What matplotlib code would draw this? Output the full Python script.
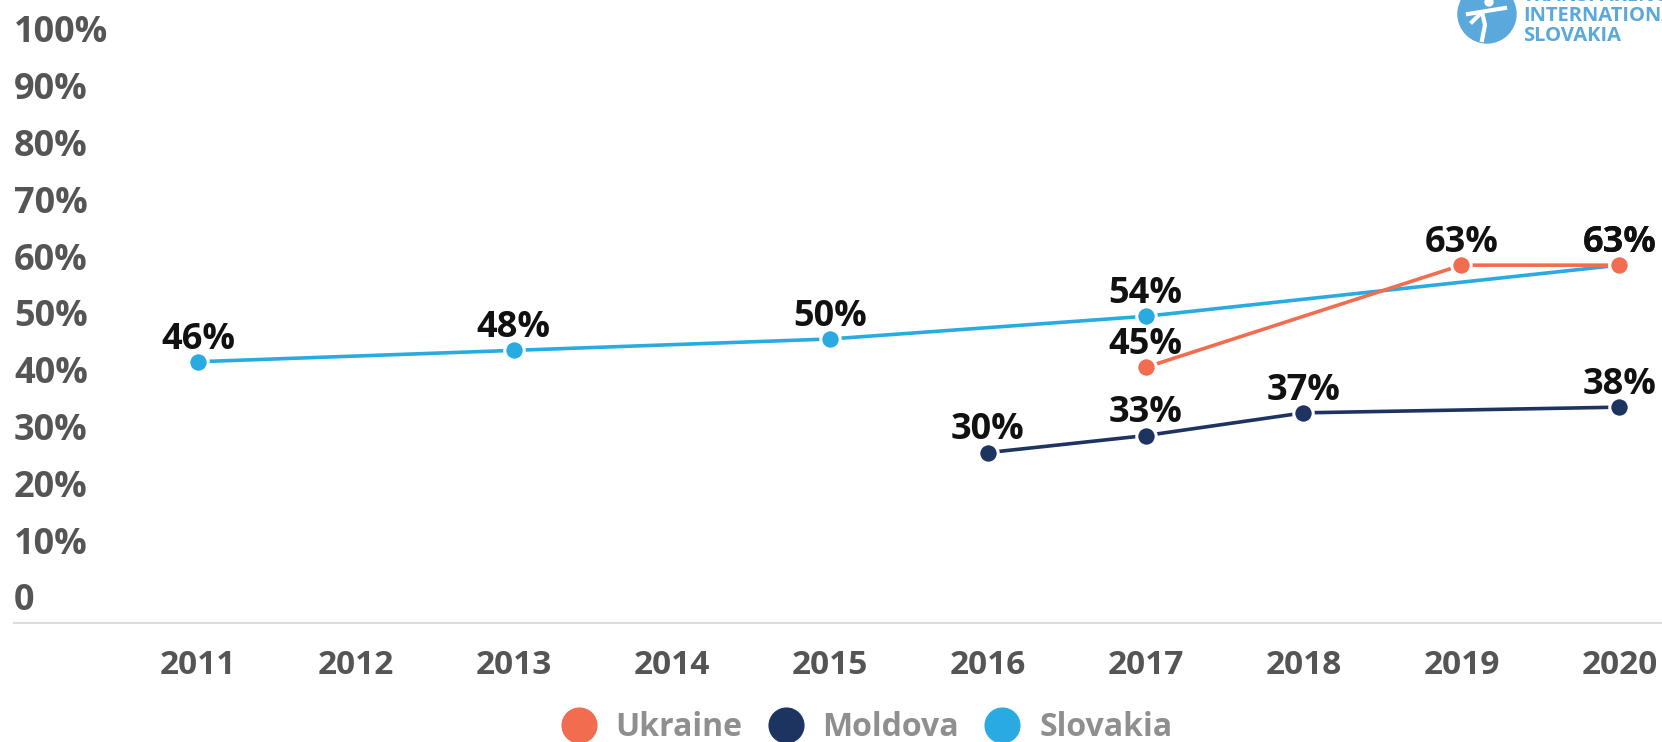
import matplotlib
matplotlib.use("Agg")
import matplotlib.pyplot as plt
import matplotlib.transforms as mtransforms
from matplotlib.lines import Line2D
from matplotlib.patches import Circle
import numpy as np

plt.rcParams['font.family'] = ['Open Sans', 'DejaVu Sans']

years = ["2011", "2012", "2013", "2014", "2015", "2016", "2017", "2018", "2019", "2020"]
ukraine_years = ["2017", "2019", "2020"]
ukraine_vals = [45, 63, 63]
moldova_years = ["2016", "2017", "2018", "2020"]
moldova_vals = [30, 33, 37, 38]
slovakia_years = ["2011", "2013", "2015", "2017", "2020"]
slovakia_vals = [46, 48, 50, 54, 63]
y_ticks = [0, 10, 20, 30, 40, 50, 60, 70, 80, 90, 100]
y_labels = ["0", "10%", "20%", "30%", "40%", "50%", "60%", "70%", "80%", "90%", "100%"]

series = [
    ("Ukraine", ukraine_years, ukraine_vals, "#F26D50"),
    ("Moldova", moldova_years, moldova_vals, "#1D3461"),
    ("Slovakia", slovakia_years, slovakia_vals, "#29ABE2"),
]

W, H = 1662, 742
fig = plt.figure(figsize=(W / 100, H / 100), dpi=100)
fig.patch.set_facecolor("white")

ax = fig.add_axes([14 / W, 1 - 623 / H, 1 - 14 / W, (623 - 55) / H])
ax.set_ylim(0, 100)
ax.set_xlim(-1.165, 9.27)
ax.set_facecolor("none")
for s in ["top", "right", "left"]:
    ax.spines[s].set_visible(False)
ax.spines["bottom"].set_color("#dddddd")
ax.spines["bottom"].set_linewidth(1.5)

idx = {y: i for i, y in enumerate(years)}

for name, yrs, vals, col in [series[2], series[0], series[1]]:
    xs = [idx[y] for y in yrs]
    ax.plot(xs, vals, color=col, lw=2.6, zorder=3, solid_capstyle="butt")
    ax.plot(xs, vals, linestyle="none", marker="o", markersize=14,
            markerfacecolor=col, markeredgecolor="white", markeredgewidth=2.2, zorder=4)
    for x, v in zip(xs, vals):
        ax.annotate(f"{v}%", (x, v), xytext=(0, 3), textcoords="offset points",
                    ha="center", va="bottom", fontsize=26, fontweight="bold",
                    color="#111111", zorder=5)

ax.set_xticks(range(len(years)))
ax.set_xticklabels(years, fontsize=24, fontweight="bold", color="#555555")
ax.tick_params(axis="x", length=0, pad=19)

ax.set_yticks(y_ticks)
ax.set_yticklabels(y_labels, fontsize=26, fontweight="bold", color="#555555", ha="left")
ax.tick_params(axis="y", length=0, pad=0)
offset = mtransforms.ScaledTranslation(0, 26 / 100, fig.dpi_scale_trans)
for lab in ax.get_yticklabels():
    lab.set_transform(lab.get_transform() + offset)

# legend
handles = [Line2D([0], [0], linestyle="none", marker="o", markersize=25,
                  markerfacecolor=c, markeredgecolor=c) for _, _, _, c in series]
leg = fig.legend(handles, [s[0] for s in series], loc="center",
                 bbox_to_anchor=(866 / W, 1 - 728 / H), ncol=3, frameon=False,
                 prop={"size": 23, "weight": "bold"}, handletextpad=0.55,
                 columnspacing=0.75, handlelength=1.2)
for t in leg.get_texts():
    t.set_color("#8f8f8f")

# logo
logo_col = "#5AA8DC"
lax = fig.add_axes([0, 0, 1, 1], facecolor="none")
lax.set_xlim(0, W)
lax.set_ylim(H, 0)
lax.axis("off")
lax.add_patch(Circle((1487, 14), 29, color=logo_col, zorder=1))
lax.plot([1472, 1482, 1485, 1482], [22, 12, 25, 40], color="white", lw=3, zorder=2)
lax.plot([1468, 1505], [14, 8], color="white", lw=3, zorder=2)
lax.add_patch(Circle((1489, 2), 4, color="white", zorder=2))
for txt, yy in [("TRANSPARENCY", -4), ("INTERNATIONAL", 16), ("SLOVAKIA", 36)]:
    lax.text(1523, yy, txt, color=logo_col, fontsize=14.5, fontweight="bold",
             ha="left", va="center")

fig.savefig("out.png", dpi=100, facecolor="white")
